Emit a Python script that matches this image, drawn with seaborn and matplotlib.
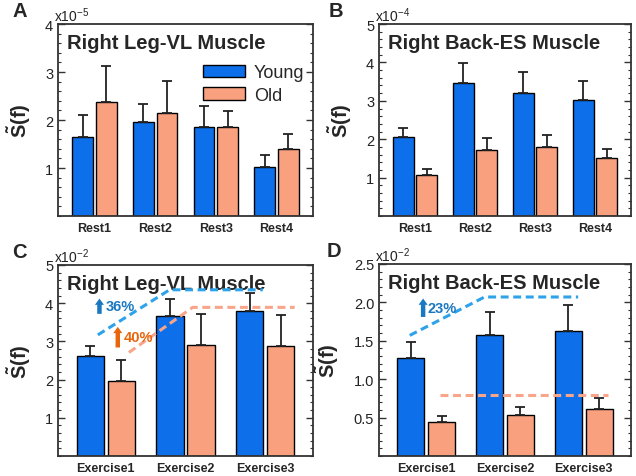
import numpy as np
import pandas as pd
import matplotlib
matplotlib.use("Agg")
import matplotlib.pyplot as plt
from matplotlib.ticker import MultipleLocator, FormatStrFormatter
import seaborn as sns

# ---- Data (values in units of the panel's x10^n exponent) -------------------
groups = ["Young", "Old"]

rest_labels = ["Rest1", "Rest2", "Rest3", "Rest4"]
a_young = [1.65, 1.95, 1.85, 1.03]
a_old = [2.37, 2.15, 1.86, 1.40]
a_young_err = [0.45, 0.38, 0.45, 0.25]
a_old_err = [0.75, 0.67, 0.32, 0.30]

b_young = [2.05, 3.46, 3.21, 3.03]
b_old = [1.08, 1.73, 1.80, 1.50]
b_young_err = [0.24, 0.53, 0.55, 0.49]
b_old_err = [0.15, 0.29, 0.30, 0.24]

ex_labels = ["Exercise1", "Exercise2", "Exercise3"]
c_young = [2.63, 3.67, 3.80]
c_old = [1.95, 2.90, 2.89]
c_young_err = [0.26, 0.43, 0.46]
c_old_err = [0.55, 0.82, 0.79]

d_young = [1.28, 1.57, 1.63]
d_old = [0.44, 0.53, 0.61]
d_young_err = [0.21, 0.31, 0.34]
d_old_err = [0.08, 0.11, 0.14]

# Dashed trend guides (category position, value)
c_young_trend_x = [-0.1, 0.8, 1.97]
c_young_trend_y = [3.17, 4.35, 4.35]
c_old_trend_x = [0.29, 1.09, 2.37]
c_old_trend_y = [2.71, 3.89, 3.89]
d_young_trend_x = [-0.21, 0.74, 1.93]
d_young_trend_y = [1.57, 2.07, 2.07]
d_old_trend_x = [0.18, 2.31]
d_old_trend_y = [0.79, 0.79]

# ---- Style ------------------------------------------------------------------
sns.set_theme(style="ticks")
plt.rcParams["font.family"] = ["Liberation Sans", "DejaVu Sans"]
plt.rcParams["mathtext.fontset"] = "custom"
plt.rcParams["mathtext.rm"] = "Liberation Sans"
plt.rcParams["mathtext.bf"] = "Liberation Sans:bold"

palette = {"Young": "#0D6FEA", "Old": "#F9A07F"}
trend_blue = "#2EA3EA"
trend_orange = "#F9A58A"
arrow_blue = "#1A78C2"
arrow_orange = "#E8650C"


def make_df(labels, young, old):
    return pd.DataFrame({
        "cat": labels * 2,
        "group": ["Young"] * len(labels) + ["Old"] * len(labels),
        "value": young + old,
    })


def draw_panel(ax, labels, young, old, young_err, old_err, ymax, major, minor,
               exp, title, letter, letter_x, fmt="%d", legend=False):
    df = make_df(labels, young, old)
    sns.barplot(data=df, x="cat", y="value", hue="group", hue_order=groups,
                palette=palette, errorbar=None, width=0.78, gap=0.12,
                edgecolor="black", linewidth=1.0, ax=ax, legend=legend,
                saturation=1)
    # one-sided error bars, placed on the bars seaborn drew
    for cont, errs in zip(ax.containers, [young_err, old_err]):
        xs = [p.get_x() + p.get_width() / 2 for p in cont.patches]
        hs = [p.get_height() for p in cont.patches]
        ax.errorbar(xs, hs, yerr=[np.zeros(len(errs)), errs], fmt="none",
                    ecolor="#222222", elinewidth=1.3, capsize=3.5, capthick=1.3,
                    zorder=1)
    n = len(labels)
    ax.set_xlim(-0.6, n - 1 + 0.6)
    ax.set_ylim(0, ymax)
    ax.yaxis.set_minor_locator(MultipleLocator(minor))
    ax.yaxis.set_major_formatter(FormatStrFormatter(fmt))
    ticks = [t for t in np.arange(major, ymax + 1e-9, major)]
    ax.set_yticks(ticks)
    ax.tick_params(axis="y", which="major", direction="in", length=5,
                   width=1, left=True, right=True, labelsize=10.5,
                   colors="#333333", labelcolor="#222222")
    ax.tick_params(axis="y", which="minor", direction="in", length=2.5,
                   width=0.8, left=True, right=True, colors="#333333")
    ax.tick_params(axis="x", length=0, labelsize=9, pad=4.5)
    for lab in ax.get_xticklabels():
        lab.set_fontweight("bold")
    for sp in ax.spines.values():
        sp.set_visible(True)
        sp.set_linewidth(1.3)
        sp.set_color("#333333")
    ax.set_xlabel("")
    ax.set_ylabel(r"$\mathbf{\tilde{S}(f)}$", fontsize=14.5, labelpad=9)
    ax.text(0.035, 0.955, title, transform=ax.transAxes, fontsize=14.5,
            fontweight="bold", va="top", ha="left")
    ax.text(-0.015, 1.0, r"x10$^{%d}$" % exp, transform=ax.transAxes,
            fontsize=10, va="bottom", ha="left", color="#222222")
    ax.text(letter_x, 1.02, letter, transform=ax.transAxes, fontsize=14.5,
            fontweight="bold", va="bottom", ha="left")


fig = plt.figure(figsize=(6.36, 4.77), dpi=100)
axA = fig.add_axes([0.0912, 0.545, 0.401, 0.4025])
axB = fig.add_axes([0.596, 0.545, 0.396, 0.4025])
axC = fig.add_axes([0.0912, 0.042, 0.401, 0.4004])
axD = fig.add_axes([0.596, 0.042, 0.396, 0.4025])

draw_panel(axA, rest_labels, a_young, a_old, a_young_err, a_old_err, 4, 1, 0.2,
           -5, "Right Leg-VL Muscle", "A", -0.18, legend=True)
draw_panel(axB, rest_labels, b_young, b_old, b_young_err, b_old_err, 5, 1, 0.2,
           -4, "Right Back-ES Muscle", "B", -0.2)
draw_panel(axC, ex_labels, c_young, c_old, c_young_err, c_old_err, 5, 1, 0.2,
           -2, "Right Leg-VL Muscle", "C", -0.18)
draw_panel(axD, ex_labels, d_young, d_old, d_young_err, d_old_err, 2.5, 0.5,
           0.1, -2, "Right Back-ES Muscle", "D", -0.21, fmt="%.1f")

# legend in panel A
axA.legend(loc="upper right", bbox_to_anchor=(1.03, 0.875), frameon=False,
           fontsize=13, handlelength=2.3, handleheight=0.7,
           handletextpad=0.5, labelspacing=0.3)

# trend guides and percentage annotations
dash = (2.6, 1.5)
axC.plot(c_young_trend_x, c_young_trend_y, color=trend_blue, lw=2.2,
         dashes=dash, zorder=5)
axC.plot(c_old_trend_x, c_old_trend_y, color=trend_orange, lw=2.2,
         dashes=dash, zorder=5)
axD.plot(d_young_trend_x, d_young_trend_y, color=trend_blue, lw=2.2,
         dashes=dash, zorder=5)
axD.plot(d_old_trend_x, d_old_trend_y, color=trend_orange, lw=2.2,
         dashes=dash, zorder=5)


def up_arrow(ax, x, y0, y1, label, color, tx):
    ax.annotate("", xy=(x, y1), xytext=(x, y0),
                arrowprops=dict(arrowstyle="simple,head_width=0.65,head_length=0.45,tail_width=0.32",
                                color=color, lw=0, mutation_scale=10,
                                shrinkA=0, shrinkB=0), zorder=6)
    ax.text(tx, (y0 + y1) / 2, label, color=color, fontsize=10.5,
            fontweight="bold", va="center", ha="left", zorder=6)


up_arrow(axC, -0.08, 3.72, 4.12, "36%", arrow_blue, 0.0)
up_arrow(axC, 0.15, 2.84, 3.38, "40%", arrow_orange, 0.22)
up_arrow(axD, -0.04, 1.81, 2.05, "23%", arrow_blue, 0.02)

fig.savefig("out.png", dpi=100)
